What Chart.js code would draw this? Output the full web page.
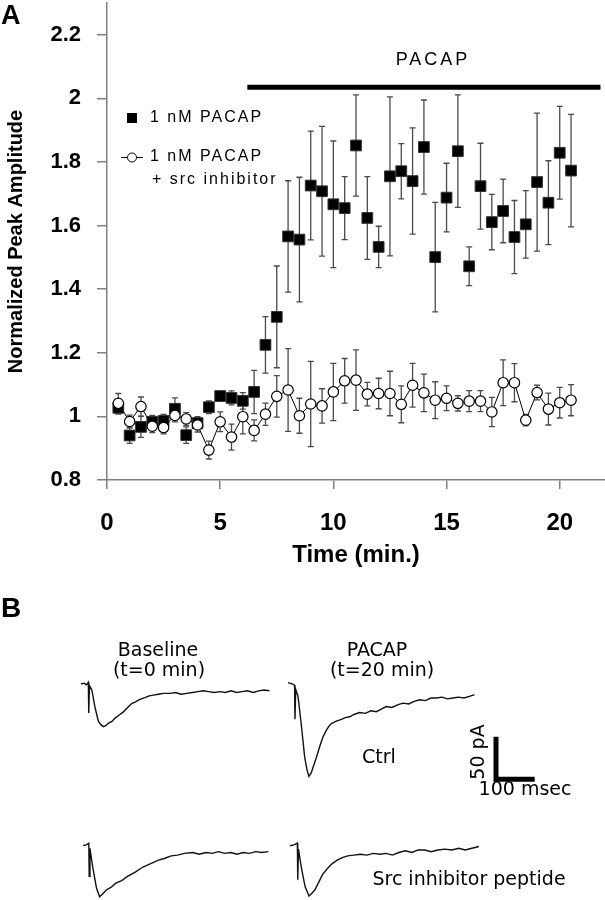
<!DOCTYPE html>
<html lang="en">
<head>
<meta charset="UTF-8">
<title>PACAP normalized peak amplitude</title>
<script src="https://cdn.jsdelivr.net/npm/chart.js"></script>
<style>
    body { margin: 0; background: #fff; }
    #wrap { position: relative; width: 605px; height: 900px; }
    canvas { position: absolute; left: 0; }
    #chartA { top: 0; }
    #chartB { top: 570px; }
</style>
</head>
<body>

<div id="wrap">
    <canvas id="chartA" width="605" height="570"></canvas>
    <canvas id="chartB" width="605" height="330"></canvas>
</div>

<script>
    // ---- panel A data (time in min, amplitude normalized to baseline) ----
    const times = [0.5, 1, 1.5, 2, 2.5, 3, 3.5, 4, 4.5, 5, 5.5, 6, 6.5, 7, 7.5, 8, 8.5, 9, 9.5, 10,
                   10.5, 11, 11.5, 12, 12.5, 13, 13.5, 14, 14.5, 15, 15.5, 16, 16.5, 17, 17.5, 18,
                   18.5, 19, 19.5, 20, 20.5];
    const pacap = [1.027, 0.940, 0.967, 0.983, 0.986, 1.024, 0.941, 0.979, 1.029, 1.064, 1.058, 1.049,
                   1.077, 1.225, 1.313, 1.566, 1.556, 1.726, 1.708, 1.667, 1.655, 1.852, 1.624, 1.533,
                   1.755, 1.771, 1.740, 1.847, 1.501, 1.688, 1.834, 1.472, 1.724, 1.611, 1.646, 1.564,
                   1.604, 1.737, 1.672, 1.829, 1.773];
    const pacapSem = [0.02, 0.025, 0.033, 0.02, 0.02, 0.034, 0.026, 0.02, 0.02, 0.015, 0.022, 0.026,
                      0.068, 0.089, 0.16, 0.175, 0.196, 0.171, 0.204, 0.199, 0.099, 0.159, 0.13, 0.065,
                      0.25, 0.087, 0.167, 0.148, 0.172, 0.108, 0.177, 0.061, 0.135, 0.087, 0.10, 0.115,
                      0.106, 0.217, 0.132, 0.146, 0.177];
    const srcInhib = [1.041, 0.984, 1.031, 0.969, 0.965, 1.003, 0.992, 0.973, 0.894, 0.983, 0.935, 0.999,
                      0.956, 1.007, 1.063, 1.083, 1.002, 1.039, 1.033, 1.077, 1.112, 1.114, 1.070, 1.072,
                      1.072, 1.038, 1.098, 1.074, 1.051, 1.057, 1.041, 1.048, 1.048, 1.014, 1.106, 1.106,
                      0.988, 1.075, 1.023, 1.043, 1.051];
    const srcSem = [0.031, 0.02, 0.03, 0.02, 0.02, 0.02, 0.02, 0.022, 0.028, 0.031, 0.041, 0.054,
                    0.033, 0.035, 0.065, 0.13, 0.055, 0.134, 0.054, 0.09, 0.07, 0.095, 0.037, 0.048,
                    0.07, 0.058, 0.069, 0.059, 0.058, 0.039, 0.024, 0.033, 0.033, 0.046, 0.072, 0.06,
                    0.018, 0.023, 0.05, 0.048, 0.049];
    const pacapPeriod = [6.2, 21.8];   // min, application bar
    const pacapBarLevel = 2.035;
    const xTicks = [0, 5, 10, 15, 20];
    const yTicks = [0.8, 1, 1.2, 1.4, 1.6, 1.8, 2, 2.2];
    const legendLabels = ['1 nM PACAP', '1 nM PACAP', '+ src inhibitor'];

    // ---- panel B data: example currents (ms from trace start, pA from baseline) ----
    const ctrlBaseT = [0, 8, 14, 19, 20, 22, 28, 36, 45, 52, 58, 64, 71, 80, 88, 97, 109, 120, 131, 141,
                       152, 165, 176, 187, 200, 213, 230, 245, 258, 273, 288, 302, 316, 330, 345, 359,
                       373, 388, 402, 416, 430, 445, 459, 473, 487];
    const ctrlBaseI = [0, 1, -1, 2, -34, -2, -7, -27, -44, -48, -50, -49, -46, -44, -40, -37, -33, -28, -23, -21,
                       -18, -16, -14, -13, -12, -11, -11, -10, -12, -11, -10, -9, -8, -9, -10, -9,
                       -10, -8, -10, -9, -8, -10, -8, -7, -8];
    const ctrlPacT = [0, 8, 14, 17, 18, 20, 26, 35, 43, 49, 54, 60, 65, 74, 82, 90, 99, 106, 112, 125,
                      138, 148, 159, 172, 185, 200, 214, 228, 241, 254, 268, 283, 297, 312, 326, 340,
                      355, 369, 383, 398, 412, 426, 440, 455, 469, 482];
    const ctrlPacI = [0, -1, -2, -3, -43, -8, -16, -52, -87, -102, -110, -106, -99, -87, -75, -64, -56, -51, -48, -45,
                      -43, -41, -40, -37, -35, -36, -33, -34, -31, -28, -29, -26, -24, -25, -22, -20,
                      -21, -18, -18, -17, -19, -18, -17, -18, -16, -14];
    const srcBaseT = [0, 8, 15, 16, 18, 25, 35, 43, 50, 60, 72, 85, 100, 115, 135, 155, 175, 195, 210, 228,
                      244, 262, 284, 300, 318, 334, 350, 366, 382, 398, 414, 430, 446, 462, 479];
    const srcBaseI = [0, 1, 3, -36, -3, -25, -50, -60, -57, -52, -49, -44, -41, -36, -31, -25, -21, -17, -15, -12,
                      -11, -9, -8, -10, -8, -9, -7, -9, -8, -10, -8, -9, -7, -8, -7];
    const srcPacT = [0, 10, 19, 20, 22, 29, 39, 49, 56, 64, 74, 84, 96, 109, 122, 135, 149, 165, 182, 199,
                     215, 232, 248, 265, 281, 298, 315, 331, 348, 365, 382, 400, 418, 436, 453, 470, 488];
    const srcPacI = [0, 1, 3, -40, -4, -25, -48, -59, -56, -52, -43, -34, -27, -21, -17, -14, -12, -11, -10, -11,
                     -9, -10, -9, -11, -8, -6, -8, -5, -5, -7, -5, -4, -5, -3, -5, -3, -1];
    const scaleBarMs = 100;
    const scaleBarPA = 50;

    const FONT = '"Liberation Sans", Arial, sans-serif';
    const FONT_B = '"DejaVu Sans", sans-serif';

    const toPoints = (xs, ys) => xs.map((x, i) => ({ x: x, y: ys[i] }));

    // vertical SEM whiskers with caps, drawn behind the markers
    const errorBars = {
        id: 'errorBars',
        beforeDatasetsDraw(chart) {
            const { ctx, scales: { x, y } } = chart;
            chart.data.datasets.forEach(ds => {
                if (!ds.sem) return;
                ctx.save();
                ctx.strokeStyle = '#4a4a4a';
                ctx.lineWidth = 1.3;
                ds.data.forEach((p, i) => {
                    const px = x.getPixelForValue(p.x);
                    const top = y.getPixelForValue(p.y + ds.sem[i]);
                    const bot = y.getPixelForValue(p.y - ds.sem[i]);
                    ctx.beginPath();
                    ctx.moveTo(px, top); ctx.lineTo(px, bot);
                    ctx.moveTo(px - 3, top); ctx.lineTo(px + 3, top);
                    ctx.moveTo(px - 3, bot); ctx.lineTo(px + 3, bot);
                    ctx.stroke();
                });
                ctx.restore();
            });
        }
    };

    // panel letter, legend and the PACAP label
    const panelAText = {
        id: 'panelAText',
        afterDraw(chart) {
            const ctx = chart.ctx;
            ctx.save();
            ctx.fillStyle = '#000';
            ctx.font = 'bold 27px ' + FONT;
            ctx.fillText('A', 1, 24);

            ctx.font = '16px ' + FONT;
            ctx.letterSpacing = '2px';
            ctx.textBaseline = 'middle';
            ctx.fillRect(127, 113, 10, 10);
            ctx.fillText(legendLabels[0], 150, 118);

            ctx.strokeStyle = '#000';
            ctx.lineWidth = 1;
            ctx.beginPath(); ctx.moveTo(121, 157.5); ctx.lineTo(143, 157.5); ctx.stroke();
            ctx.beginPath(); ctx.arc(132, 157.5, 4.5, 0, 2 * Math.PI);
            ctx.fillStyle = '#fff'; ctx.fill(); ctx.stroke();
            ctx.fillStyle = '#000';
            ctx.fillText(legendLabels[1], 150, 157);
            ctx.fillText(legendLabels[2], 152, 180);

            ctx.font = '18px ' + FONT;
            ctx.letterSpacing = '3px';
            ctx.textAlign = 'center';
            ctx.fillText('PACAP', 433, 60);
            ctx.restore();
        }
    };

    new Chart(document.getElementById('chartA'), {
        type: 'scatter',
        data: {
            datasets: [
                {
                    label: legendLabels[1] + ' ' + legendLabels[2],
                    data: toPoints(times, srcInhib),
                    sem: srcSem,
                    showLine: true,
                    borderColor: '#000',
                    borderWidth: 1,
                    pointStyle: 'circle',
                    pointRadius: 5.2,
                    pointBorderWidth: 1.2,
                    pointBackgroundColor: '#fff',
                    pointBorderColor: '#000',
                    order: 0
                },
                {
                    label: legendLabels[0],
                    data: toPoints(times, pacap),
                    sem: pacapSem,
                    showLine: false,
                    pointStyle: 'rect',
                    pointRadius: 7.6,
                    pointBorderWidth: 1,
                    pointBackgroundColor: '#000',
                    pointBorderColor: '#333',
                    order: 1
                },
                {
                    label: 'PACAP',
                    data: toPoints(pacapPeriod, [pacapBarLevel, pacapBarLevel]),
                    showLine: true,
                    borderColor: '#000',
                    borderWidth: 5,
                    borderCapStyle: 'butt',
                    pointRadius: 0,
                    order: 2
                }
            ]
        },
        options: {
            responsive: false,
            animation: false,
            layout: { autoPadding: false, padding: { top: 3, right: 0, left: 0, bottom: 0 } },
            plugins: { legend: { display: false }, tooltip: { enabled: false } },
            scales: {
                x: {
                    type: 'linear', min: 0, max: 22,
                    afterBuildTicks: s => { s.ticks = xTicks.map(v => ({ value: v })); },
                    afterFit: s => { s.height = 90; s.paddingLeft = 0; s.paddingRight = 0; },
                    grid: { drawOnChartArea: false, tickLength: 9, color: '#808080', lineWidth: 1.5 },
                    border: { color: '#808080', width: 1.5 },
                    ticks: {
                        color: '#000', padding: 20, maxRotation: 0,
                        font: { family: FONT, size: 24, weight: 'bold' },
                        callback: v => String(v)
                    },
                    title: {
                        display: true, text: 'Time (min.)', color: '#000',
                        font: { family: FONT, size: 24, weight: 'bold' },
                        padding: { top: 0, bottom: 0 }
                    }
                },
                y: {
                    type: 'linear', min: 0.8, max: 2.3,
                    afterBuildTicks: s => { s.ticks = yTicks.map(v => ({ value: v })); },
                    afterFit: s => { s.width = 107; s.paddingTop = 0; s.paddingBottom = 0; },
                    grid: { drawOnChartArea: false, tickLength: 10, color: '#808080', lineWidth: 1.5 },
                    border: { color: '#808080', width: 1.5 },
                    ticks: {
                        color: '#000', padding: 16,
                        font: { family: FONT, size: 22, weight: 'bold' },
                        callback: v => String(v)
                    },
                    title: {
                        display: true, text: 'Normalized Peak Amplitude', color: '#000',
                        font: { family: FONT, size: 20, weight: 'bold' },
                        padding: { top: 4, bottom: 0 }
                    }
                }
            }
        },
        plugins: [errorBars, panelAText]
    });

    // ---- panel B: traces placed on a ms / pA canvas ----
    const msPerPx = 2.584, paPerPx = 1.174;
    const traceOrigins = [
        { x: 81 * msPerPx, y: -114 * paPerPx },
        { x: 288 * msPerPx, y: -112.7 * paPerPx },
        { x: 83 * msPerPx, y: -275.7 * paPerPx },
        { x: 290 * msPerPx, y: -275.7 * paPerPx }
    ];
    const traceData = [[ctrlBaseT, ctrlBaseI], [ctrlPacT, ctrlPacI], [srcBaseT, srcBaseI], [srcPacT, srcPacI]];
    const barOrigin = { x: 496 * msPerPx, y: -209.3 * paPerPx };

    const traceSets = traceData.map((tr, k) => ({
        data: tr[0].map((t, i) => ({ x: traceOrigins[k].x + t, y: traceOrigins[k].y + tr[1][i] })),
        showLine: true,
        borderColor: '#111',
        borderWidth: 1.4,
        pointRadius: 0
    }));
    traceSets.push({
        data: [
            { x: barOrigin.x, y: barOrigin.y + scaleBarPA },
            { x: barOrigin.x, y: barOrigin.y },
            { x: barOrigin.x + scaleBarMs, y: barOrigin.y }
        ],
        showLine: true,
        borderColor: '#000',
        borderWidth: 5,
        borderCapStyle: 'butt',
        borderJoinStyle: 'miter',
        pointRadius: 0
    });

    const panelBText = {
        id: 'panelBText',
        afterDraw(chart) {
            const ctx = chart.ctx;
            ctx.save();
            ctx.fillStyle = '#000';
            ctx.font = 'bold 28px ' + FONT;
            ctx.fillText('B', 1, 47);

            ctx.font = '19px ' + FONT_B;
            ctx.textAlign = 'center';
            ctx.textBaseline = 'middle';
            ctx.fillText('Baseline', 158, 81);
            ctx.fillText('(t=0 min)', 159, 101);
            ctx.fillText('PACAP', 377, 81);
            ctx.fillText('(t=20 min)', 382, 101);
            ctx.fillText('Ctrl', 379, 188);
            ctx.fillText('100 msec', 525, 220);
            ctx.fillText('Src inhibitor peptide', 469, 310);

            ctx.translate(479, 182);
            ctx.rotate(-Math.PI / 2);
            ctx.fillText('50 pA', 0, 0);
            ctx.restore();
        }
    };

    new Chart(document.getElementById('chartB'), {
        type: 'scatter',
        data: { datasets: traceSets },
        options: {
            responsive: false,
            animation: false,
            layout: { autoPadding: false, padding: 0 },
            plugins: { legend: { display: false }, tooltip: { enabled: false } },
            scales: {
                x: { type: 'linear', display: false, min: 0, max: 605 * msPerPx },
                y: { type: 'linear', display: false, min: -330 * paPerPx, max: 0 }
            }
        },
        plugins: [panelBText]
    });
</script>

</body>
</html>
